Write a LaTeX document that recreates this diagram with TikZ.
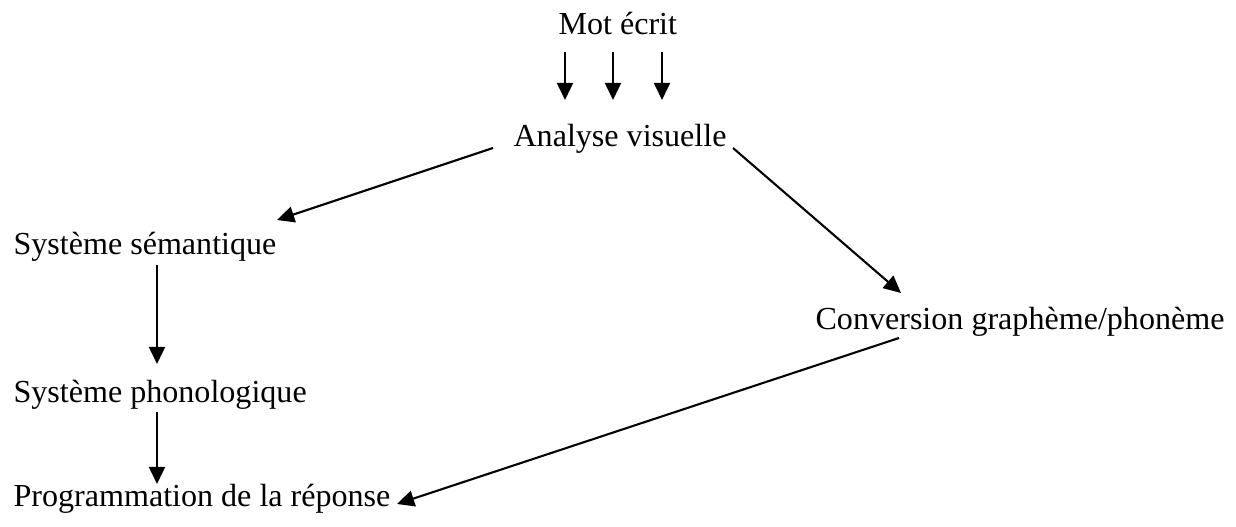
\documentclass[tikz,border=0pt]{standalone}
\usepackage{fontspec}
\setmainfont{Liberation Serif}
\usetikzlibrary{arrows.meta}
\begin{document}
\begin{tikzpicture}[x=0.36pt,y=-0.36pt,
  lbl/.style={anchor=base west,inner sep=0pt,font=\fontsize{11.55}{14}\selectfont},
  arr/.style={line width=0.75pt,-{Triangle[length=6.2pt,width=5.8pt]}}]
\useasboundingbox (0,0) rectangle (1236,527);
\node[lbl] (mot) at (558,35) {Mot écrit};
\node[lbl] (ana) at (513,147) {Analyse visuelle};
\node[lbl] (sem) at (13,255) {Système sémantique};
\node[lbl] (conv) at (815,330) {Conversion graphème/phonème};
\node[lbl] (pho) at (13,403) {Système phonologique};
\node[lbl] (prog) at (13,507) {Programmation de la réponse};
% endpoints
\coordinate (m1) at (565,52); \coordinate (a1) at (565,100);
\coordinate (m2) at (613,52); \coordinate (a2) at (613,100);
\coordinate (m3) at (662,52); \coordinate (a3) at (662,100);
\coordinate (anaL) at (493,148); \coordinate (semR) at (277,220);
\coordinate (anaR) at (733,148); \coordinate (convT) at (901,293);
\coordinate (semB) at (157,265); \coordinate (phoT) at (157,364);
\coordinate (phoB) at (157,412); \coordinate (progT) at (157,484);
\coordinate (convB) at (899,338); \coordinate (progR) at (397,504);
\draw[arr] (m1) -- (a1);
\draw[arr] (m2) -- (a2);
\draw[arr] (m3) -- (a3);
\draw[arr] (anaL) -- (semR);
\draw[arr] (anaR) -- (convT);
\draw[arr] (semB) -- (phoT);
\draw[arr] (phoB) -- (progT);
\draw[arr] (convB) -- (progR);
\end{tikzpicture}
\end{document}
